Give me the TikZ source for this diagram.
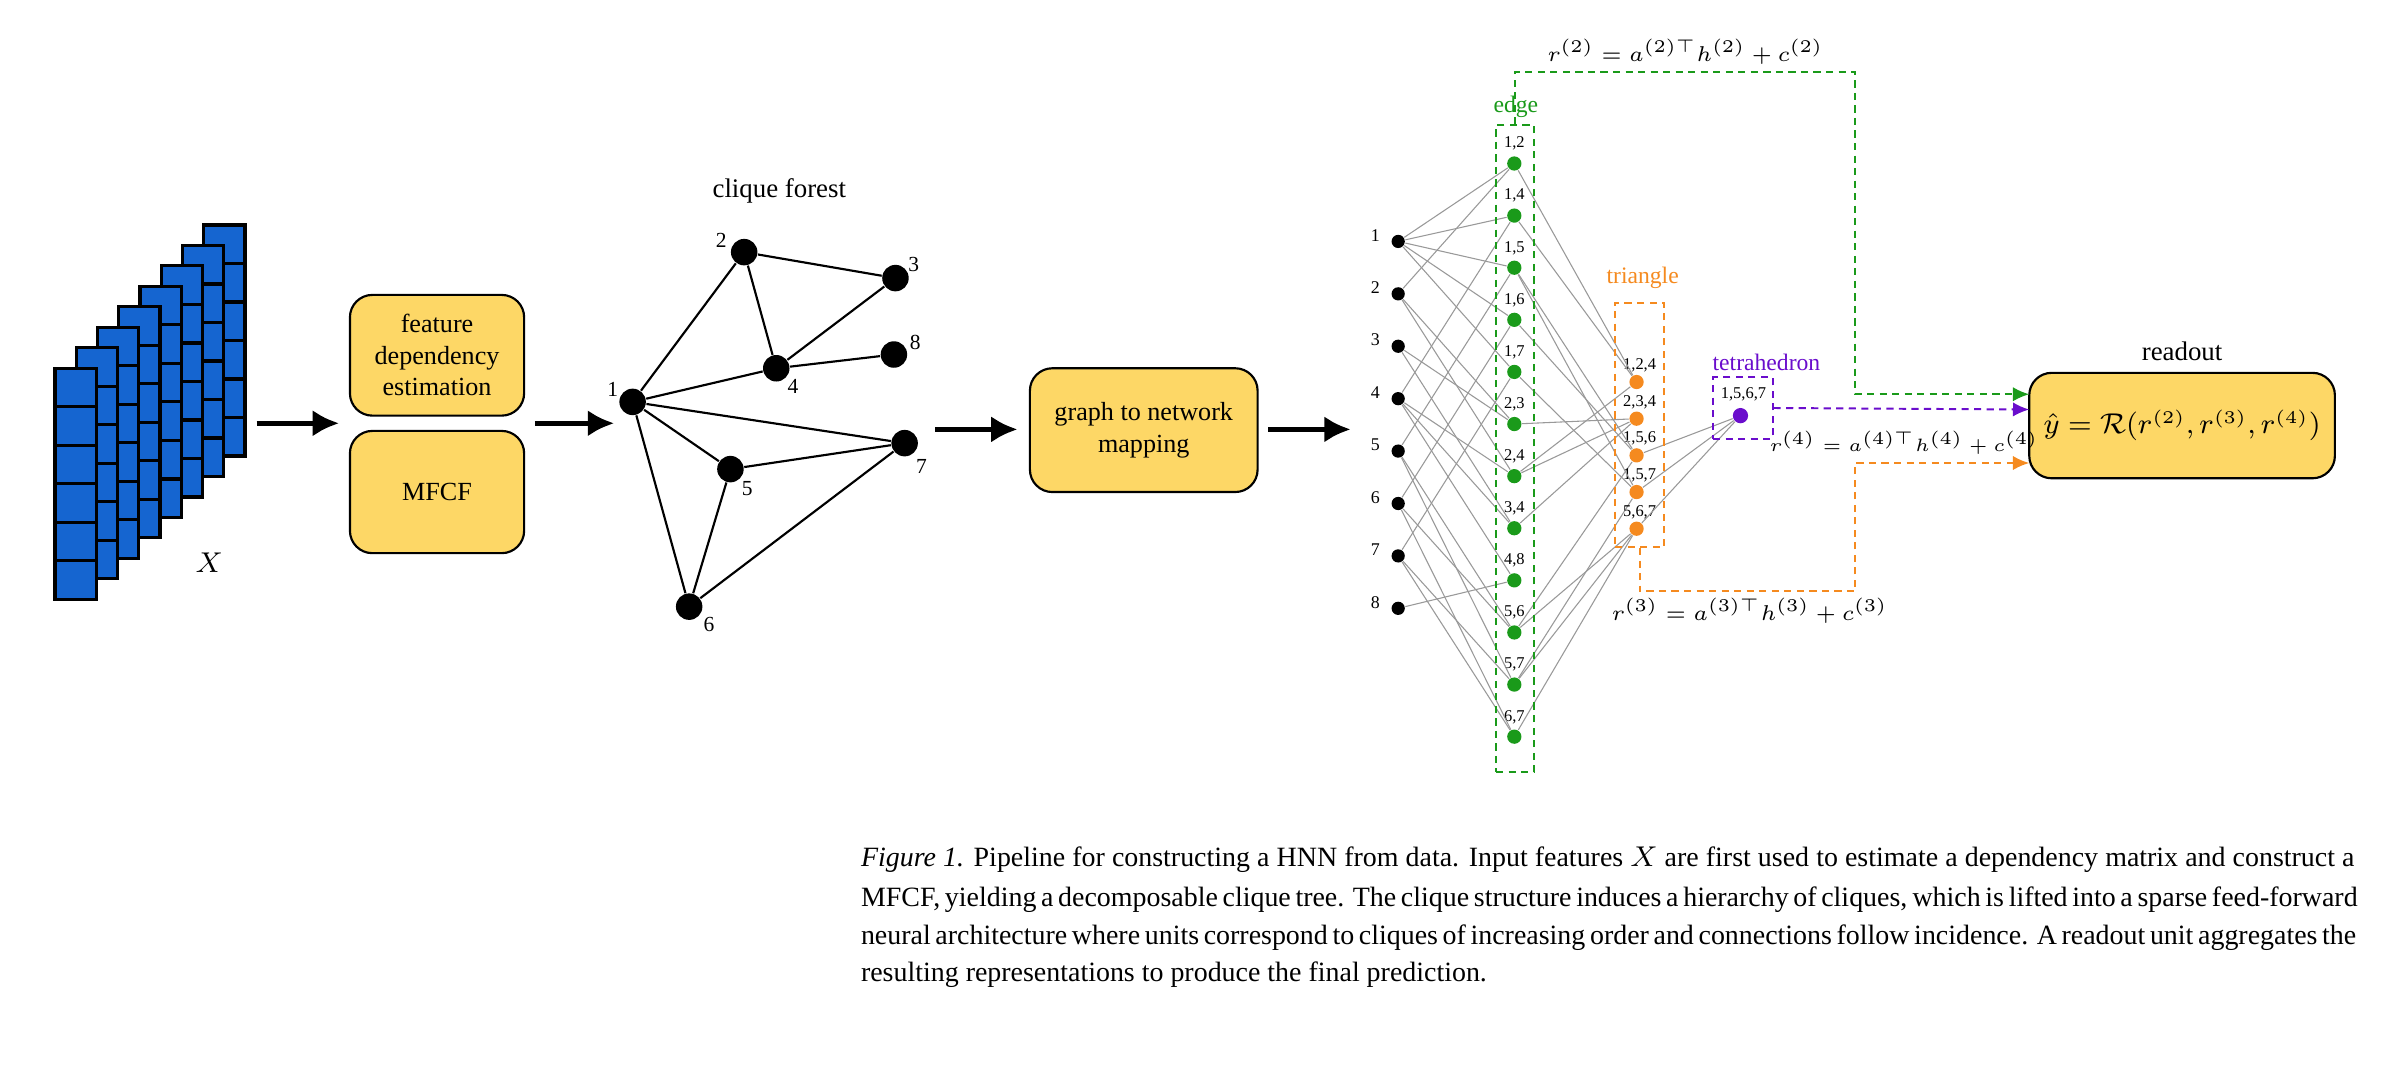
\documentclass[tikz,border=0pt]{standalone}
\usepackage{fontspec}
\setmainfont{Liberation Serif}
\usetikzlibrary{arrows.meta,fit}
\definecolor{cblue}{HTML}{1565D0}
\definecolor{cyel}{HTML}{FDD766}
\definecolor{cgreen}{HTML}{1A9A1A}
\definecolor{corange}{HTML}{F58A1F}
\definecolor{cpurple}{HTML}{6A0DCC}
\newcommand{\fs}[1]{\fontsize{#1}{1.2\dimexpr #1\relax}\selectfont}
\begin{document}
\begin{tikzpicture}[x=0.15mm,y=-0.15mm,
  ybox/.style={draw=black,line width=0.6pt,fill=cyel,rounded corners=2.2mm,align=center,inner sep=0pt,font=\fs{7.3pt}},
  bigarrow/.style={line width=1.5pt,-{Latex[length=2.6mm,width=2.6mm]}},
  cdot/.style={circle,fill=black,inner sep=0pt,minimum size=2.6mm},
  indot/.style={circle,fill=black,inner sep=0pt,minimum size=1.3mm},
  gdot/.style={circle,fill=cgreen,inner sep=0pt,minimum size=1.4mm},
  odot/.style={circle,fill=corange,inner sep=0pt,minimum size=1.4mm},
  pdot/.style={circle,fill=cpurple,inner sep=0pt,minimum size=1.5mm},
  wire/.style={gray!80,line width=0.3pt},
  netlab/.style={font=\fs{4.6pt},inner sep=0.3pt},
  clab/.style={font=\fs{6pt},inner sep=0.5pt},
  dbox/.style={dashed,dash pattern=on 2pt off 1.5pt,line width=0.55pt,inner sep=0pt},
  dconn/.style={dashed,dash pattern=on 2pt off 1.5pt,line width=0.55pt},
  mlab/.style={font=\fs{5.6pt},inner sep=0pt},
  capl/.style={anchor=base west,inner sep=0pt,font=\fs{7.8pt}}]
\useasboundingbox (0,0) rectangle (1568,707);
% blue stack
\foreach \k in {7,...,0}{
  \foreach \r in {0,...,5}{
    \draw[fill=cblue,line width=0.9pt] ({36+13.9*\k},{241-13.4*\k+25.2*\r}) rectangle ++(27,25.2);
  }
}
\node[font=\fs{8pt}] (X) at (137,368) {$X$};
% boxes
\node[ybox,minimum width=17.1mm,minimum height=11.85mm] (fde) at (286,232.5) {feature\\dependency\\estimation};
\node[ybox,minimum width=17.1mm,minimum height=12mm] (mfcf) at (286,322) {MFCF};
\coordinate (a1s) at (168,277); \coordinate (a1e) at (222,277);
\draw[bigarrow] (a1s) -- (a1e);
\coordinate (a2s) at (350,277); \coordinate (a2e) at (402,277);
\draw[bigarrow] (a2s) -- (a2e);
% clique forest
\node[font=\fs{7.5pt}] (cft) at (510,125) {clique forest};
\node[cdot] (c1) at (414,263) {};
\node[cdot] (c2) at (487,165) {};
\node[cdot] (c3) at (586,182) {};
\node[cdot] (c4) at (508,241) {};
\node[cdot] (c8) at (585,232) {};
\node[cdot] (c5) at (478,307) {};
\node[cdot] (c7) at (592,290) {};
\node[cdot] (c6) at (451,397) {};
\foreach \n/\x/\y in {1/401/255,2/472/157,3/598/173,4/519/253,8/599/224,5/489/320,7/603/305,6/464/409}
  \node[clab] (cl\n) at (\x,\y) {\n};
\foreach \a/\b in {1/2,2/3,2/4,4/3,1/4,4/8,1/7,1/5,5/7,1/6,5/6,6/7}
  \draw[line width=0.6pt] (c\a) -- (c\b);
\coordinate (a3s) at (612,281); \coordinate (a3e) at (666,281);
\draw[bigarrow] (a3s) -- (a3e);
\node[ybox,minimum width=22.35mm,minimum height=12.15mm] (g2n) at (748.5,281.5) {graph to network\\mapping};
\coordinate (a4s) at (830,281); \coordinate (a4e) at (884,281);
\draw[bigarrow] (a4s) -- (a4e);
% network inputs
\foreach \i in {1,...,8}{
  \node[indot] (in\i) at (915,{158+34.3*(\i-1)}) {};
  \node[netlab,font=\fs{5pt}] at (900,{154+34.3*(\i-1)}) {\i};
}
% edge layer
\foreach [count=\c] \a/\b in {1/2,1/4,1/5,1/6,1/7,2/3,2/4,3/4,4/8,5/6,5/7,6/7}{
  \node[gdot] (e\a\b) at (991,{107+34.1*(\c-1)}) {};
  \node[netlab] at (991,{94+34.1*(\c-1)}) {\a,\b};
  \draw[wire] (in\a) -- (e\a\b);
  \draw[wire] (in\b) -- (e\a\b);
}
% triangle layer
\foreach [count=\c] \a/\b/\d in {1/2/4,2/3/4,1/5/6,1/5/7,5/6/7}{
  \node[odot] (t\a\b\d) at (1071,{250+24*(\c-1)}) {};
  \node[netlab] at (1073,{239+24*(\c-1)}) {\a,\b,\d};
  \draw[wire] (e\a\b) -- (t\a\b\d);
  \draw[wire] (e\a\d) -- (t\a\b\d);
  \draw[wire] (e\b\d) -- (t\a\b\d);
}
\node[pdot] (q) at (1139,272) {};
\node[netlab] at (1141,258) {1,5,6,7};
\foreach \t in {t156,t157,t567} \draw[wire] (\t) -- (q);
% group boxes
\node[dbox,draw=cgreen,fit={(979,82) (1004,505)}] (ebox) {};
\node[dbox,draw=corange,fit={(1057,198) (1089,358)}] (tbox) {};
\node[dbox,draw=cpurple,fit={(1121,247) (1160,287)}] (qbox) {};
\node[font=\fs{6.6pt},text=cgreen] (el) at (992,70) {edge};
\node[font=\fs{6.6pt},text=corange] (tl) at (1075,182) {triangle};
\node[font=\fs{6.6pt},text=cpurple] (ql) at (1156,237) {tetrahedron};
% readout
\node[font=\fs{7.5pt}] (rol) at (1428,230) {readout};
\node[ybox,minimum width=30mm,minimum height=10.35mm,font=\fs{7.8pt}] (ro) at (1428,278.5) {$\hat{y} = \mathcal{R}(r^{(2)},r^{(3)},r^{(4)})$};
\coordinate (g1) at (1214,47);
\coordinate (rg) at (1328,258);
\coordinate (rp) at (1328,268);
\coordinate (o1) at (1214,387);
\coordinate (rO) at (1328,303);
\draw[dconn,draw=cgreen,-{Latex[length=1.6mm,width=1.4mm,fill=cgreen]}] (ebox.north) |- (g1) |- (rg);
\draw[dconn,draw=cpurple,-{Latex[length=1.6mm,width=1.4mm,fill=cpurple]}] (qbox.east) -- (rp);
\draw[dconn,draw=corange,-{Latex[length=1.6mm,width=1.4mm,fill=corange]}] (tbox.south) |- (o1) |- (rO);
\node[mlab] (r2) at (1103,34) {$r^{(2)} = a^{(2)\top} h^{(2)} + c^{(2)}$};
\node[mlab] (r3) at (1145,400) {$r^{(3)} = a^{(3)\top} h^{(3)} + c^{(3)}$};
\node[mlab,font=\fs{5pt}] (r4) at (1246,290) {$r^{(4)} = a^{(4)\top} h^{(4)} + c^{(4)}$};
% caption
\node[capl] (cap1) at (563,567) {\makebox[146.6mm][s]{\emph{Figure 1.} Pipeline for constructing a HNN from data. Input features $X$ are first used to estimate a dependency matrix and construct a}};
\node[capl] (cap2) at (563,593) {\makebox[146.6mm][s]{MFCF, yielding a decomposable clique tree. The clique structure induces a hierarchy of cliques, which is lifted into a sparse feed-forward}};
\node[capl] (cap3) at (563,618) {\makebox[146.6mm][s]{neural architecture where units correspond to cliques of increasing order and connections follow incidence. A readout unit aggregates the}};
\node[capl] (cap4) at (563,642) {resulting representations to produce the final prediction.};
\end{tikzpicture}
\end{document}
